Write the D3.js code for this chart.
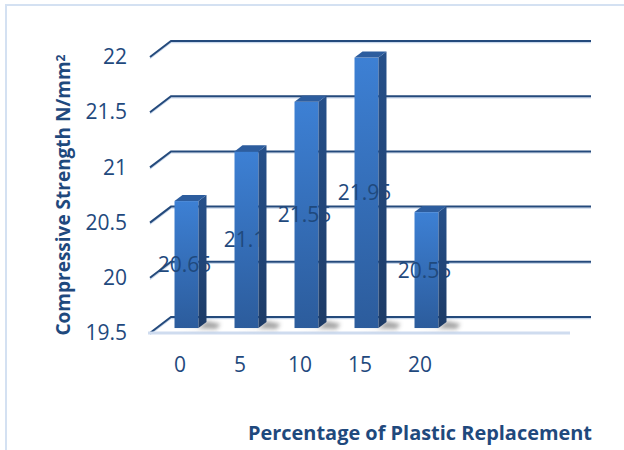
<!DOCTYPE html>
<html>
<head>
<meta charset="utf-8">
<script src="https://cdn.jsdelivr.net/npm/d3@7"></script>
<style>
  html, body { margin: 0; padding: 0; background: #ffffff; }
  svg { display: block; }
  text { font-family: "Open Sans", "Liberation Sans", sans-serif; }
</style>
</head>
<body>
<div id="chart"></div>
<script>
// Compressive strength of concrete by percentage of plastic replacement
const categories = ["0", "5", "10", "15", "20"];
const strength = [20.65, 21.1, 21.55, 21.95, 20.55];
const yTicks = [19.5, 20, 20.5, 21, 21.5, 22];
const slotCount = 7; // category axis reserves seven slots, five are filled

const W = 624, H = 450;
const textColor = "#1f497d";
const gridColor = "#244a7c";

// Oblique 3D projection: depth vector of the plot box
const depth = { dx: 21, dy: -16 };
const barDepth = [0.31, 0.69]; // fraction of depth occupied by the columns

const svg = d3.select("#chart").append("svg")
  .attr("width", W).attr("height", H);

const defs = svg.append("defs");
const gFront = defs.append("linearGradient").attr("id", "barFront")
  .attr("x1", 0).attr("y1", 0).attr("x2", 0).attr("y2", 1);
gFront.append("stop").attr("offset", "0%").attr("stop-color", "#3d80d4");
gFront.append("stop").attr("offset", "100%").attr("stop-color", "#2c5c9c");
const gSide = defs.append("linearGradient").attr("id", "barSide")
  .attr("x1", 0).attr("y1", 0).attr("x2", 0).attr("y2", 1);
gSide.append("stop").attr("offset", "0%").attr("stop-color", "#26508a");
gSide.append("stop").attr("offset", "100%").attr("stop-color", "#1d3b66");
defs.append("filter").attr("id", "soft")
  .attr("x", "-50%").attr("y", "-50%").attr("width", "200%").attr("height", "200%")
  .append("feGaussianBlur").attr("stdDeviation", 2.2);

// Chart area border
svg.append("rect")
  .attr("x", 6).attr("y", 5).attr("width", W + 20).attr("height", H + 20)
  .attr("fill", "none").attr("stroke", "#d4e1f2").attr("stroke-width", 2);

const x = d3.scaleBand().domain(d3.range(slotCount)).range([150, 570]);
const y = d3.scaleLinear().domain([19.5, 22]).range([333, 57]);

const xLeft = x.range()[0], xRight = x.range()[1];

// Gridlines on the back wall with their diagonal returns on the side wall
const grid = svg.append("g");
yTicks.forEach((t, i) => {
  const yy = y(t);
  const pts = [[xLeft, yy], [xLeft + depth.dx, yy + depth.dy], [xRight + depth.dx, yy + depth.dy]];
  grid.append("path")
    .attr("d", d3.line()(pts.map(p => [p[0], p[1] + 1.6])))
    .attr("fill", "none").attr("stroke", "#c9d8ec").attr("stroke-width", 1.2);
  grid.append("path")
    .attr("d", d3.line()(pts))
    .attr("fill", "none").attr("stroke", gridColor).attr("stroke-width", 2);
});

// Floor front edge
svg.append("line")
  .attr("x1", xLeft - 2).attr("x2", xRight)
  .attr("y1", y(19.5)).attr("y2", y(19.5))
  .attr("stroke", "#cfdcef").attr("stroke-width", 3);

// Columns
const bw = x.bandwidth() * 0.4;
const d0x = barDepth[0] * depth.dx, d0y = barDepth[0] * depth.dy;
const ddx = (barDepth[1] - barDepth[0]) * depth.dx, ddy = (barDepth[1] - barDepth[0]) * depth.dy;

const bars = strength.map((v, i) => {
  const cx = x(i) + x.bandwidth() / 2;
  const x0 = cx - bw / 2 + d0x, x1 = cx + bw / 2 + d0x;
  const yb = y(19.5) + d0y, yt = y(v) + d0y;
  return { v, i, x0, x1, yb, yt };
});

// soft floor shadows
svg.append("g").selectAll("path").data(bars).join("path")
  .attr("d", b => d3.line()([
    [b.x0 + 2, b.yb], [b.x1 + ddx + 10, b.yb + 1], [b.x1 + ddx + 14, b.yb - 4],
    [b.x1 + ddx, b.yb + ddy - 1], [b.x1, b.yb]]) + "Z")
  .attr("fill", "#5a5a5a").attr("opacity", 0.55).attr("filter", "url(#soft)");

const barG = svg.append("g");
barG.selectAll("rect.front").data(bars).join("rect")
  .attr("class", "front")
  .attr("x", b => b.x0).attr("y", b => b.yt)
  .attr("width", b => b.x1 - b.x0).attr("height", b => b.yb - b.yt)
  .attr("fill", "url(#barFront)");

// Value labels, centred on each column
svg.append("g").selectAll("text").data(bars).join("text")
  .attr("x", b => (b.x0 + b.x1) / 2 - 2)
  .attr("y", b => (b.yt + b.yb) / 2)
  .attr("dy", "0.36em")
  .attr("text-anchor", "middle")
  .attr("font-size", 21)
  .attr("fill", textColor)
  .text(b => b.v);

// Side and top faces
const sideG = svg.append("g");
sideG.selectAll("path.side").data(bars).join("path")
  .attr("class", "side")
  .attr("d", b => d3.line()([[b.x1, b.yb], [b.x1, b.yt], [b.x1 + ddx, b.yt + ddy], [b.x1 + ddx, b.yb + ddy]]) + "Z")
  .attr("fill", "url(#barSide)");
sideG.selectAll("path.top").data(bars).join("path")
  .attr("class", "top")
  .attr("d", b => d3.line()([[b.x0, b.yt], [b.x1, b.yt], [b.x1 + ddx, b.yt + ddy], [b.x0 + ddx, b.yt + ddy]]) + "Z")
  .attr("fill", "#2d5d9e");

// Value axis labels
const yAxis = svg.append("g")
  .attr("transform", "translate(135,0)")
  .call(d3.axisLeft(y).tickValues(yTicks).tickSize(0).tickPadding(8).tickFormat(d3.format("")));
yAxis.select(".domain").remove();
yAxis.selectAll("text")
  .attr("font-size", 21).attr("fill", textColor)
  .style("font-family", "'Open Sans', sans-serif");

// Category axis labels
const xAxis = svg.append("g")
  .attr("transform", "translate(0,364)")
  .call(d3.axisBottom(x).tickValues(d3.range(categories.length)).tickSize(0).tickPadding(0)
    .tickFormat(i => categories[i]));
xAxis.select(".domain").remove();
xAxis.selectAll("text")
  .attr("y", 0).attr("dy", "0.36em")
  .attr("font-size", 21).attr("fill", textColor)
  .style("font-family", "'Open Sans', sans-serif");

// Axis titles
const xTitle = svg.append("text")
  .attr("x", 420).attr("y", 440)
  .attr("text-anchor", "middle")
  .attr("font-size", 19).attr("font-weight", "bold")
  .attr("fill", textColor)
  .text("Percentage of Plastic Replacement");
xTitle.attr("textLength", 344).attr("lengthAdjust", "spacingAndGlyphs");

const yTitle = svg.append("text")
  .attr("transform", "translate(70,195) rotate(-90)")
  .attr("text-anchor", "middle")
  .attr("font-size", 19).attr("font-weight", "bold")
  .attr("fill", textColor);
yTitle.append("tspan").text("Compressive Strength N/mm");
yTitle.append("tspan").attr("dy", "-0.45em").attr("font-size", 12).text("2");
</script>
</body>
</html>
